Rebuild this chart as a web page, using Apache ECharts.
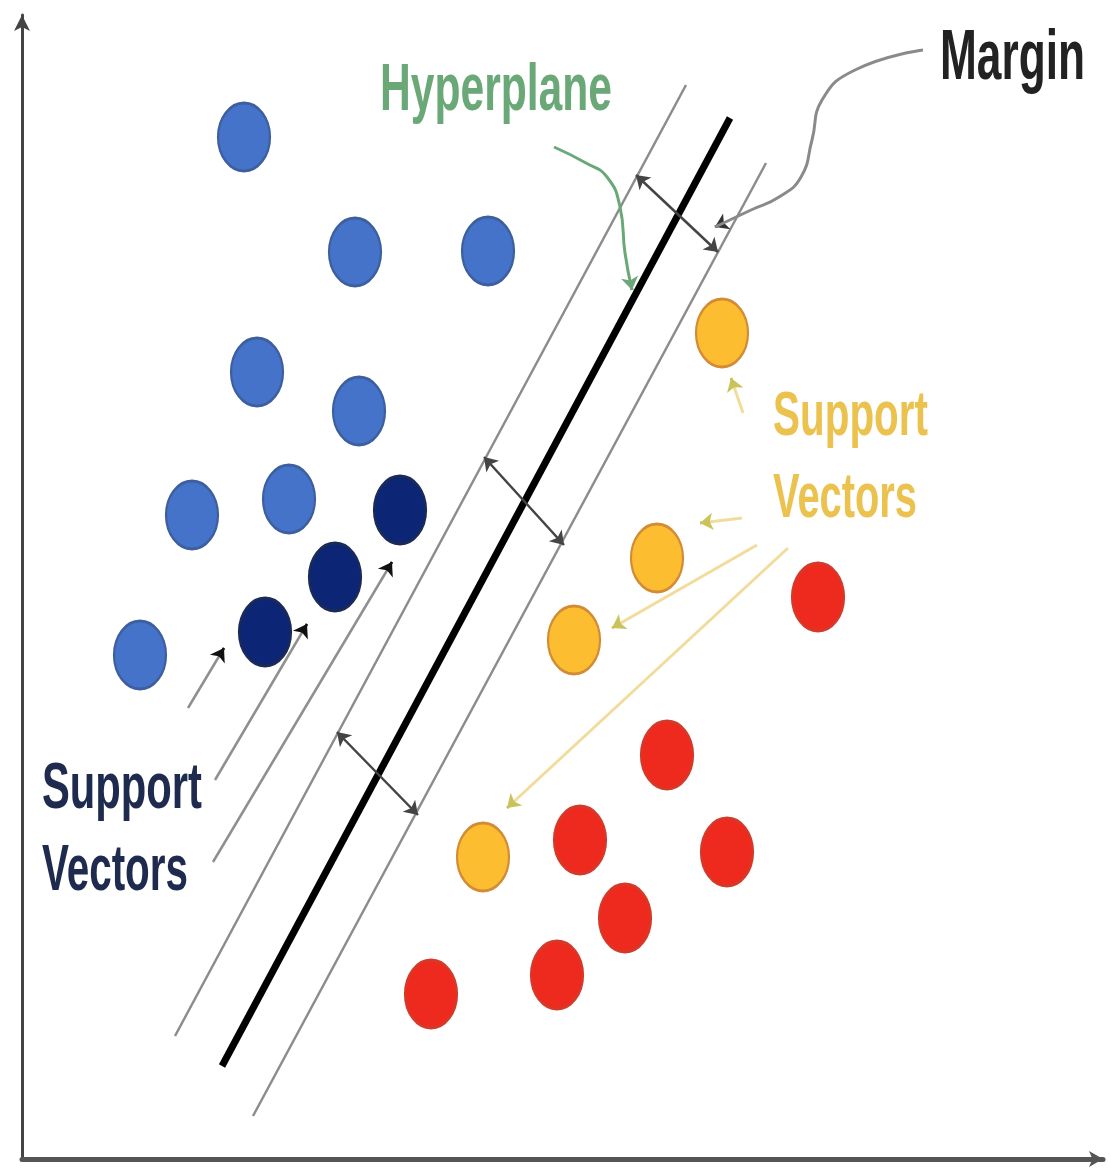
<!DOCTYPE html>
<html><head><meta charset="utf-8">
<script src="https://cdn.jsdelivr.net/npm/echarts@6/dist/echarts.min.js"></script>
<style>html,body{margin:0;padding:0;background:#fff}#chart{width:1111px;height:1168px}</style>
</head><body><div id="chart"></div>
<script>
// Data in chart units (origin at the axes' corner, y upward)
const bluePoints = [[222,1022],[333,907],[466,908],[235,787],[337,748],[170,644],[267,660],[118,504]];
const navyPoints = [[378,649],[313,582],[243,527]];
const orangePoints = [[700,826],[635,601],[552,519],[461,302]];
const redPoints = [[796,562],[645,404],[558,319],[705,307],[603,241],[535,184],[409,165]];
const hyperplane = [[708,1041],[200,93]];
const upperMargin = [[664,1074],[153,123]];
const lowerMargin = [[744,996],[231,43]];
const marginArrows = [[[614,984],[696,907]],[[462,702],[542,614]],[[315,427],[396,344]]];
const blueSvArrows = [[[166,451],[202,511]],[[193,379],[285,535]],[[191,297],[370,597]]];
const orangeSvArrows = [[[721,746],[709,781]],[[720,641],[678,636]],[[735,614],[590,531]],[[766,611],[485,351]]];
const hyperplaneCurve = [[532,1012],[564,996],[585,982],[598,952],[603,906],[610,869]];
const marginCurve = [[901,1109],[833,1089],[800,1059],[790,1019],[779,982],[757,962],[729,949],[693,932]];
const labelTexts = ['Hyperplane','Margin','Support','Vectors'];

function head(a, b, len){
  const dx=b[0]-a[0], dy=b[1]-a[1], L=Math.hypot(dx,dy);
  return {coords:[[b[0]-dx/L*len, b[1]-dy/L*len], b]};
}
const ctx = document.createElement('canvas').getContext('2d');
const FAMILY = '"Liberation Sans", Arial, sans-serif';
function textEl(txt, left, cy, width, size, color){
  ctx.font = 'bold ' + size + 'px ' + FAMILY;
  const s = width / ctx.measureText(txt).width;
  return {type:'text', x:left, y:cy, scaleX:s, z:100,
    style:{text:txt, fill:color, fontSize:size, fontFamily:FAMILY, fontWeight:'bold', align:'left', verticalAlign:'middle'}};
}

const chart = echarts.init(document.getElementById('chart'));
const dot = (data, color, border) => ({type:'scatter', data, symbol:'circle', symbolSize:[52,68], z:10,
  itemStyle:{color, borderColor:border, borderWidth:2.5, opacity:1}});
const seg = (coords, color, width, symbol, z) => ({type:'lines', coordinateSystem:'cartesian2d', z:z||3,
  data: coords.map(c => ({coords:c})), symbol: symbol||['none','none'], symbolSize:13,
  lineStyle:{color, width, opacity:1}});

chart.setOption({
  animation:false,
  grid:{left:22, right:8, top:15, bottom:9},
  xAxis:{type:'value', min:0, max:1081, splitLine:{show:false}, axisTick:{show:false}, axisLabel:{show:false},
    axisLine:{show:true, symbol:['none','arrow'], symbolSize:[12,14], lineStyle:{color:'#555', width:5}}},
  yAxis:{type:'value', min:0, max:1144, splitLine:{show:false}, axisTick:{show:false}, axisLabel:{show:false},
    axisLine:{show:true, symbol:['none','arrow'], symbolSize:[12,16], lineStyle:{color:'#444', width:3}}},
  series:[
    seg([upperMargin, lowerMargin], '#8c8c8c', 2.5),
    seg([hyperplane], '#000', 7),
    seg(marginArrows, '#444', 2.5, ['arrow','arrow']),
    seg(blueSvArrows, '#8f8f8f', 2.5),
    seg(blueSvArrows.map(s => head(s[0], s[1], 10).coords), '#111', 2.5, ['none','arrow'], 4),
    seg(orangeSvArrows, '#f1dc9c', 3),
    seg(orangeSvArrows.map(s => head(s[0], s[1], 10).coords), '#c9c35c', 2.5, ['none','arrow'], 4),
    {type:'line', data:hyperplaneCurve, smooth:0.5, showSymbol:false, z:5, lineStyle:{color:'#6aa878', width:3}},
    seg([head(hyperplaneCurve[4], hyperplaneCurve[5], 10).coords], '#6aa878', 3, ['none','arrow'], 5),
    {type:'line', data:marginCurve, smooth:0.5, showSymbol:false, z:5, lineStyle:{color:'#8a8a8a', width:3}},
    seg([head(marginCurve[6], marginCurve[7], 10).coords], '#333', 3, ['none','arrow'], 5),
    dot(bluePoints, '#4473c9', '#3d5f9e'),
    dot(navyPoints, '#0c2675', '#1c2b55'),
    dot(orangePoints, '#fdbd30', '#d38b35'),
    dot(redPoints, '#ee2a1e', '#d43a2a')
  ],
  graphic:[
    textEl(labelTexts[0], 380, 92, 232, 66, '#6aa878'),
    textEl(labelTexts[1], 940, 60, 145, 70, '#222'),
    textEl(labelTexts[2], 42, 790, 160, 64, '#1e2b4f'),
    textEl(labelTexts[3], 42, 872, 146, 64, '#1e2b4f'),
    textEl(labelTexts[2], 773, 418, 155, 63, '#ecc24f'),
    textEl(labelTexts[3], 773, 500, 144, 63, '#ecc24f')
  ]
});
</script></body></html>
